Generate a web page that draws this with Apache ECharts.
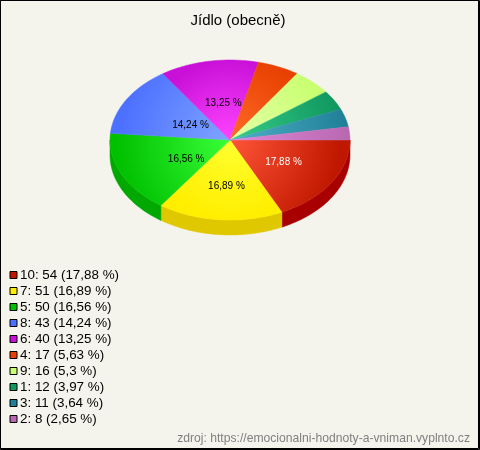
<!DOCTYPE html>
<html><head><meta charset="utf-8">
<style>html,body{margin:0;padding:0;background:#f5f4ec}#c{width:480px;height:450px}</style>
<script src="https://cdn.jsdelivr.net/npm/echarts@6/dist/echarts.min.js"></script>
</head><body><div id="c"></div>
<script>
const categories = ['10','7','5','8','6','4','9','1','3','2'];
const values = [54,51,50,43,40,17,16,12,11,8];
const baseColors = ['#c01800','#ffee00','#00c000','#4c70ff','#c810d8','#e84000','#c8ff70','#109860','#208098','#b868b0'];
const innerColors = ['#ff5538','#ffff30','#38ff38','#80a4ff','#ff44ff','#ff6a28','#e4ffa8','#38cc88','#50b0c8','#e088d8'];
const sideColors = ['#a80000','#e0c800','#00a800','#3050d0','#a000b0','#c02000','#a0d850','#007840','#006078','#904890'];
const labelColors = ['#ffffff','#000000','#000000','#000000','#000000'];
const labelNudges = [[4,-1],[-2,3],[3,0],[5,6],[0,4]];

const cx = 230, cy = 140, rx = 120, ry = 80, depth = 15;
const total = values.reduce((a,b)=>a+b,0);
const pct = v => String(Math.round(v/total*10000)/100).replace('.',',');
const names = categories.map((c,i)=>`${c}: ${values[i]} (${pct(values[i])} %)`);
const starts = []; values.reduce((a,v,i)=>{starts[i]=a; return a+v;},0);
const ang = v => v/total*Math.PI*2;
function arc(a0,a1,dy){
  const pts=[]; const n=Math.max(2,Math.ceil((a1-a0)/0.02));
  for(let k=0;k<=n;k++){const t=a0+(a1-a0)*k/n; pts.push([cx+rx*Math.cos(t),cy+ry*Math.sin(t)+dy]);}
  return pts;
}
const series=[];
series.push({type:'custom',name:'side',coordinateSystem:'none',z:1,silent:true,
  data:values.map((v,i)=>[i]),
  renderItem(p,api){
    const i=api.value(0), a0=ang(starts[i]), a1=Math.min(Math.PI,ang(starts[i]+values[i]));
    if(a0>=Math.PI) return {type:'group',children:[]};
    const top=arc(a0,a1,0), bot=arc(a0,a1,depth).reverse();
    return {type:'polygon',shape:{points:top.concat(bot)},style:{fill:sideColors[i],stroke:sideColors[i],lineWidth:0.5}};
  }});
values.forEach((v,i)=>{
  series.push({type:'custom',name:names[i],coordinateSystem:'none',z:2,silent:true,
    itemStyle:{color:baseColors[i]},
    data:[[v]],
    renderItem(p,api){
      const a0=ang(starts[i]), a1=ang(starts[i]+api.value(0)), mid=(a0+a1)/2;
      const rr=Math.hypot(rx*Math.cos(mid),ry*Math.sin(mid));
      const fill={type:'radial',x:cx,y:cy,r:rr,global:true,colorStops:[{offset:0,color:innerColors[i]},{offset:1,color:baseColors[i]}]};
      return {type:'polygon',shape:{points:[[cx,cy]].concat(arc(a0,a1,0))},style:{fill:fill,stroke:fill,lineWidth:0.5}};
    }});
});
series.push({type:'custom',name:'labels',coordinateSystem:'none',z:3,silent:true,
  data:values.slice(0,5).map((v,i)=>[i]),
  renderItem(p,api){
    const i=api.value(0), mid=ang(starts[i]+values[i]/2);
    return {type:'text',x:cx+3+55*Math.cos(mid)+labelNudges[i][0],y:cy+1+42*Math.sin(mid)+labelNudges[i][1],
      style:{text:pct(values[i])+' %',font:'10px "Liberation Sans", Arial',fill:labelColors[i],align:'center',verticalAlign:'middle'}};
  }});
const option={
  animation:false,backgroundColor:'#f5f4ec',
  title:{text:'Jídlo (obecně)',left:238,top:13,textAlign:'center',textStyle:{fontFamily:'"Liberation Sans", Arial',fontSize:15,fontWeight:'normal',color:'#000'},padding:0},
  legend:{data:names,orient:'vertical',left:9.5,top:267,itemWidth:7,itemHeight:7,itemGap:0,icon:'rect',selectedMode:false,padding:0,
    itemStyle:{borderColor:'#000',borderWidth:1,borderJoin:'miter'},
    textStyle:{fontFamily:'"Liberation Sans", Arial',fontSize:13.4,color:'#000',padding:[0,0,0,-2],lineHeight:16}},
  graphic:[
    {type:'rect',shape:{x:0.5,y:0.5,width:479,height:449},style:{fill:'none',stroke:'#000',lineWidth:1},z:10},
    {type:'rect',shape:{x:0.5,y:0.5,width:478,height:448},style:{fill:'none',stroke:'#000',lineWidth:1},z:10},
    {type:'text',right:10,top:433,style:{text:'zdroj: https://emocionalni-hodnoty-a-vniman.vyplnto.cz',font:'12.15px "Liberation Sans", Arial',fill:'#808080'}}
  ],
  series
};
echarts.init(document.getElementById('c'),null,{renderer:'canvas'}).setOption(option);
</script></body></html>
